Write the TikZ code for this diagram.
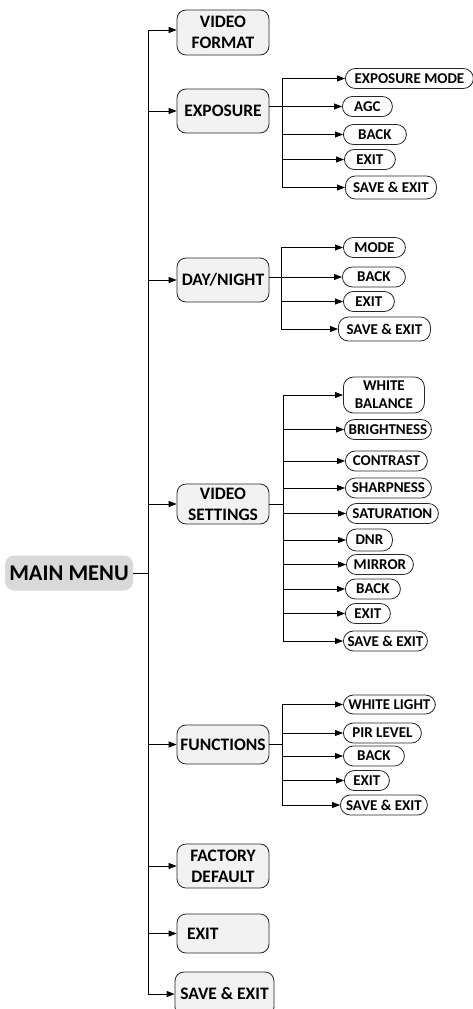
\documentclass[tikz,border=0pt]{standalone}
\usepackage{fontspec}
\setmainfont{Carlito}
\usepackage{tikz}
\usetikzlibrary{calc, positioning, arrows.meta}
\definecolor{mainfill}{HTML}{D9D9D9}
\definecolor{itemfill}{HTML}{F2F2F2}
\tikzset{main menu/.style={fill=mainfill, rounded corners=9pt, minimum width=128pt, minimum height=35pt, font=\bfseries\fontsize{22.5}{24}\selectfont}}
\tikzset{menu item/.style={draw=black!85, fill=itemfill, rounded corners=9pt, minimum width=92pt, minimum height=44pt, inner sep=1pt, align=center, font=\bfseries\fontsize{17.5}{21}\selectfont}}
\tikzset{sub item/.style={draw=black!85, fill=white, rounded corners=10pt, anchor=west, minimum height=20pt, inner sep=1pt, align=center, font=\bfseries\fontsize{15}{18}\selectfont}}
\tikzset{branch/.style={-{Triangle[length=8pt,width=6pt]}}}

\begin{document}
\begin{tikzpicture}[x=1pt, y=-1pt, line width=0.8pt]
\useasboundingbox (0,0) rectangle (473,1009);
\node[main menu] (main) at (69,573) {MAIN MENU};
\coordinate (trunk) at (148,0);
% first level
\node[menu item, minimum height=45pt] (vf) at (223,32.5) {VIDEO\\FORMAT};
\node[menu item] (expo) at (223,111) {EXPOSURE};
\node[menu item] (dn) at (223,280) {DAY/NIGHT};
\node[menu item, minimum height=40pt] (vs) at (223,504) {VIDEO\\SETTINGS};
\node[menu item, minimum height=39pt] (fun) at (223,744.5) {FUNCTIONS};
\node[menu item] (fd) at (223,866) {FACTORY\\DEFAULT};
\node[menu item, minimum height=39pt, text width=72pt, inner xsep=10pt, align=left] (ex) at (223,933.5) {EXIT};
\node[menu item, minimum width=99pt] (se) at (224.5,994) {SAVE \& EXIT};
\draw (main) -- (main -| trunk);
\draw (trunk |- vf.west) ++(0,-2.5) -- (trunk |- se.west);
\draw[branch] (trunk |- vf.west) ++(0,-2.5) -- ($(vf.west)+(0,-2.5)$);
\foreach \n in {expo,dn,vs,fun,fd,ex,se}
  \draw[branch] (trunk |- \n.west) -- (\n.west);
% exposure
\coordinate (expotrunk) at (282,0);
\node[sub item, minimum width=128pt] (em) at (345,78.5) {EXPOSURE MODE};
\node[sub item, minimum width=50pt] (agc) at (342,106.5) {AGC};
\node[sub item, minimum width=63pt] (eb) at (343,134.5) {BACK};
\node[sub item, minimum width=51pt] (ee) at (344,159.5) {EXIT};
\node[sub item, minimum width=91pt, minimum height=23pt] (ese) at (345,187.5) {SAVE \& EXIT};
\draw (expotrunk |- em) -- (expotrunk |- ese);
\draw[branch] (expo.east |- agc) -- (agc);
\foreach \c in {em,eb,ee,ese}
  \draw[branch] (expotrunk |- \c.west) -- (\c.west);
% day/night
\coordinate (dntrunk) at (281,0);
\node[sub item, minimum width=62pt] (mode) at (343,247.5) {MODE};
\node[sub item, minimum width=63pt] (db) at (342,277) {BACK};
\node[sub item, minimum width=51pt] (de) at (343,301.5) {EXIT};
\node[sub item, minimum width=92pt, minimum height=24pt] (dse) at (338,329) {SAVE \& EXIT};
\draw (dntrunk |- mode) -- (dntrunk |- dse);
\draw[branch] (dn.east |- db) -- (db);
\foreach \c in {mode,de,dse}
  \draw[branch] (dntrunk |- \c.west) -- (\c.west);
% video settings
\coordinate (vstrunk) at (283,0);
\node[sub item, minimum width=81pt, minimum height=36pt] (wb) at (343,395) {WHITE\\BALANCE};
\node[sub item, minimum width=87pt] (bri) at (344,429.5) {BRIGHTNESS};
\node[sub item, minimum width=82pt] (con) at (345,461) {CONTRAST};
\node[sub item, minimum width=86pt] (sha) at (345,488) {SHARPNESS};
\node[sub item, minimum width=92pt] (sat) at (346,513.5) {SATURATION};
\node[sub item, minimum width=46pt, minimum height=22pt] (dnr) at (346,540) {DNR};
\node[sub item, minimum width=67pt] (mir) at (346,564.5) {MIRROR};
\node[sub item, minimum width=55pt] (vb) at (345,589) {BACK};
\node[sub item, minimum width=45pt] (ve) at (345,613.5) {EXIT};
\node[sub item, minimum width=84pt] (vse) at (343,641) {SAVE \& EXIT};
\draw (vstrunk |- wb) -- (vstrunk |- vse);
\draw (vs.east) -- (vs.east -| vstrunk);
\foreach \c in {wb,bri,con,sha,sat,dnr,mir,vb,ve,vse}
  \draw[branch] (vstrunk |- \c.west) -- (\c.west);
% functions
\coordinate (funtrunk) at (282,0);
\node[sub item, minimum width=92pt, minimum height=19pt] (wl) at (343,704.5) {WHITE LIGHT};
\node[sub item, minimum width=78pt] (pir) at (343,733) {PIR LEVEL};
\node[sub item, minimum width=61pt] (fb) at (343,756) {BACK};
\node[sub item, minimum width=45pt] (fe) at (344,780.5) {EXIT};
\node[sub item, minimum width=87pt] (fse) at (340,805) {SAVE \& EXIT};
\draw (funtrunk |- wl) -- (funtrunk |- fse);
\draw (fun.east) -- (fun.east -| funtrunk);
\foreach \c in {wl,pir,fb,fe,fse}
  \draw[branch] (funtrunk |- \c.west) -- (\c.west);
\end{tikzpicture}
\end{document}
